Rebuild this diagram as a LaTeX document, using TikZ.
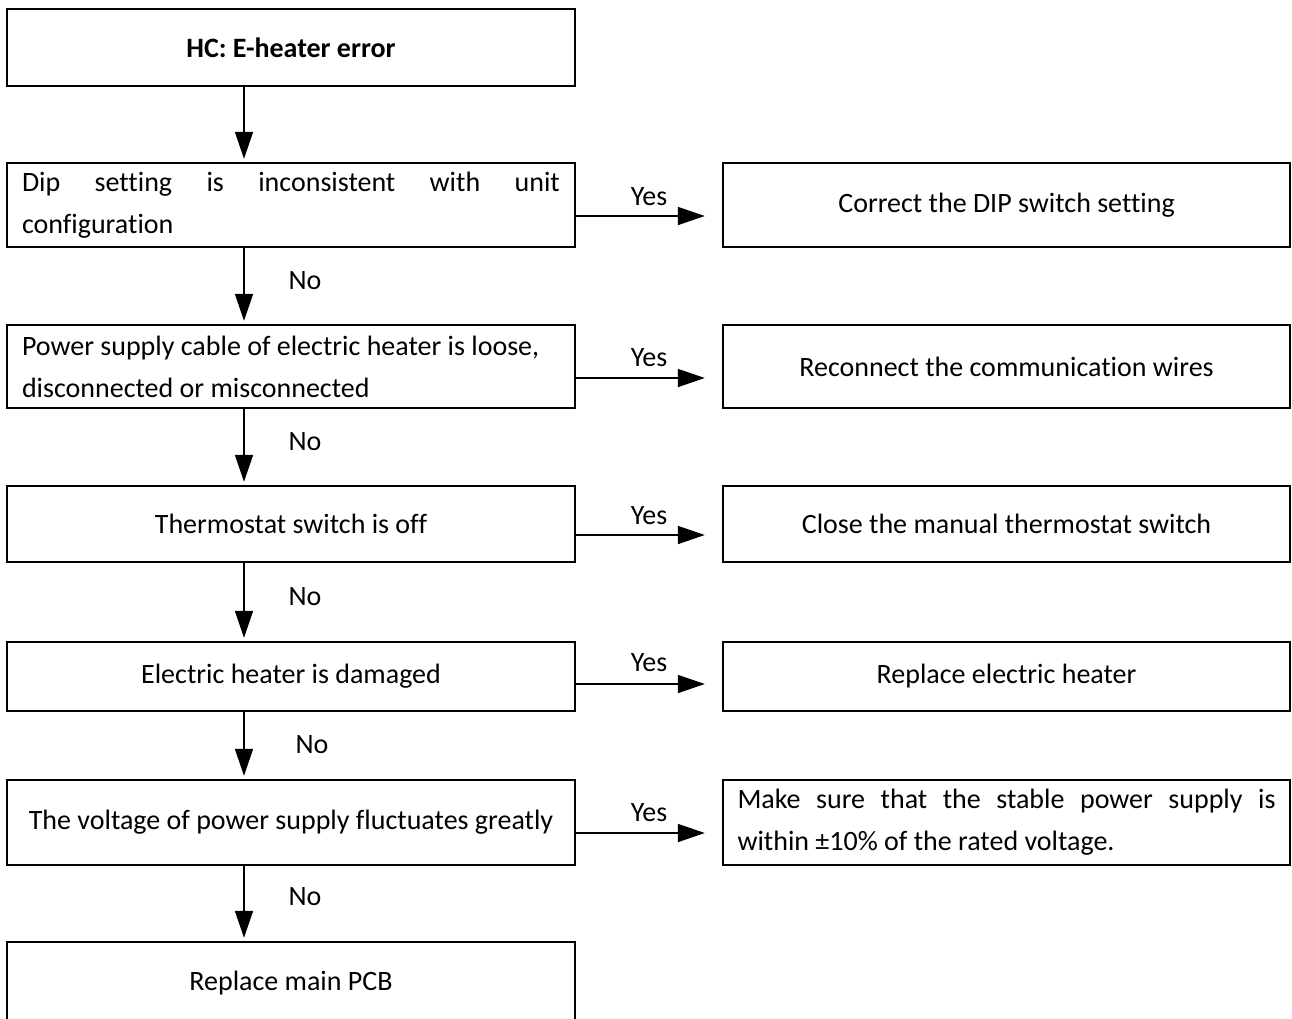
\documentclass[tikz,border=0pt]{standalone}
\usepackage{fontspec}
\setmainfont{Carlito}[Ligatures={NoCommon}]
\usetikzlibrary{arrows.meta}
\newcommand{\fs}{\fontsize{28pt}{42pt}\selectfont}
\newcommand{\nsp}{\spaceskip=0pt\relax\xspaceskip=0pt\relax}
\tikzset{
  box/.style={draw, line width=2.4pt, inner sep=0pt, font=\fs, align=center},
  lbox/.style={box, minimum width=568pt},
  rbox/.style={box, minimum width=567pt},
  arr/.style={line width=1.8pt, -{Triangle[length=27pt,width=18pt]}},
  lab/.style={font=\fs, inner sep=0pt}
}
\begin{document}
\begin{tikzpicture}[x=1pt,y=-1pt]
\path[use as bounding box, fill=white] (0,0) rectangle (1292,1018);
% left column
\node[lbox, minimum height=77pt] (L1) at (291,47.5) {\textbf{HC: E-heater error}};
\node[lbox, minimum height=84pt, text width=538pt, align=left] (L2) at (291,205)
  {\nsp\hbox to 538pt{Dip\hfill setting\hfill is\hfill inconsistent\hfill with\hfill unit}\\configuration};
\node[lbox, minimum height=83pt, text width=538pt, align=left] (L3) at (291,366.5)
  {\nsp Power supply cable of electric heater is loose,\\disconnected or misconnected};
\node[lbox, minimum height=76pt] (L4) at (291,524) {Thermostat switch is off};
\node[lbox, minimum height=69pt] (L5) at (291,676.5) {Electric heater is damaged};
\node[lbox, minimum height=85pt] (L6) at (291,822.5) {The voltage of power supply fluctuates greatly};
\node[lbox, minimum height=82pt] (L7) at (291,983) {Replace main PCB};
% right column
\node[rbox, minimum height=84pt] (R1) at (1006.5,205) {Correct the DIP switch setting};
\node[rbox, minimum height=83pt] (R2) at (1006.5,366.5) {Reconnect the communication wires};
\node[rbox, minimum height=76pt] (R3) at (1006.5,524) {Close the manual thermostat switch};
\node[rbox, minimum height=69pt] (R4) at (1006.5,676.5) {Replace electric heater};
\node[rbox, minimum height=85pt, text width=538pt, align=left] (R5) at (1006.5,822.5)
  {\nsp\hbox to 538pt{Make\hfill sure\hfill that\hfill the\hfill stable\hfill power\hfill supply\hfill is}\\within ±10\% of the rated voltage.};
% vertical arrows
\foreach \a/\b in {L1/L2,L2/L3,L3/L4,L4/L5,L5/L6,L6/L7}
  \draw[arr, shorten >=3pt] ([xshift=-47pt]\a.south) -- ([xshift=-47pt]\b.north);
% horizontal arrows
\draw[arr, shorten >=17pt] ([yshift=-11pt]L2.east) -- ([yshift=-11pt]L2.east -| R1.west);
\draw[arr, shorten >=17pt] ([yshift=-11.5pt]L3.east) -- ([yshift=-11.5pt]L3.east -| R2.west);
\draw[arr, shorten >=17pt] ([yshift=-11pt]L4.east) -- ([yshift=-11pt]L4.east -| R3.west);
\draw[arr, shorten >=17pt] ([yshift=-7.5pt]L5.east) -- ([yshift=-7.5pt]L5.east -| R4.west);
\draw[arr, shorten >=17pt] ([yshift=-10.5pt]L6.east) -- ([yshift=-10.5pt]L6.east -| R5.west);
% labels
\node[lab] (y1) at (649,197) {Yes};
\node[lab] (y2) at (649,358) {Yes};
\node[lab] (y3) at (649,516) {Yes};
\node[lab] (y4) at (649,663) {Yes};
\node[lab] (y5) at (649,813) {Yes};
\node[lab] (n1) at (305,281) {No};
\node[lab] (n2) at (305,442) {No};
\node[lab] (n3) at (305,597) {No};
\node[lab] (n4) at (312,745) {No};
\node[lab] (n5) at (305,897) {No};
\end{tikzpicture}
\end{document}
